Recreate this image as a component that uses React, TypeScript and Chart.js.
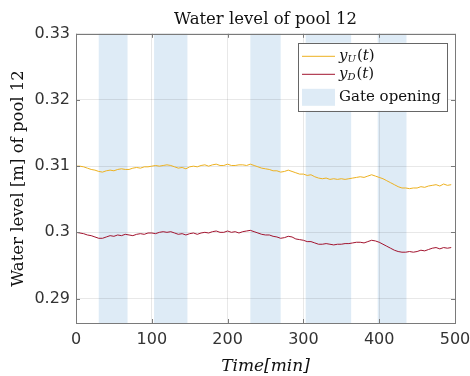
import React, { useEffect, useRef } from 'react';
import { Chart, registerables } from 'chart.js';

Chart.register(...registerables);

// ---- data ----
const timeMin = [
  0, 5, 10, 15, 20, 25, 30, 35, 40, 45, 50, 55, 60, 65, 70, 75, 80, 85, 90, 95,
  100, 105, 110, 115, 120, 125, 130, 135, 140, 145, 150, 155, 160, 165, 170, 175, 180, 185, 190, 195,
  200, 205, 210, 215, 220, 225, 230, 235, 240, 245, 250, 255, 260, 265, 270, 275, 280, 285, 290, 295,
  300, 305, 310, 315, 320, 325, 330, 335, 340, 345, 350, 355, 360, 365, 370, 375, 380, 385, 390, 395,
  400, 405, 410, 415, 420, 425, 430, 435, 440, 445, 450, 455, 460, 465, 470, 475, 480, 485, 490, 495,
];

const levelUpstream = [
  0.3100, 0.3100, 0.3099, 0.3097, 0.3095, 0.3094, 0.3092, 0.3091, 0.3093, 0.3094,
  0.3093, 0.3095, 0.3096, 0.3095, 0.3095, 0.3097, 0.3098, 0.3097, 0.3099, 0.3099,
  0.3100, 0.3101, 0.3100, 0.3101, 0.3102, 0.3101, 0.3099, 0.3097, 0.3098, 0.3096,
  0.3099, 0.3100, 0.3099, 0.3101, 0.3102, 0.3100, 0.3102, 0.3103, 0.3101, 0.3101,
  0.3103, 0.3101, 0.3101, 0.3102, 0.3102, 0.3101, 0.3103, 0.3101, 0.3099, 0.3097,
  0.3096, 0.3095, 0.3093, 0.3093, 0.3091, 0.3092, 0.3094, 0.3092, 0.3090, 0.3088,
  0.3088, 0.3086, 0.3087, 0.3084, 0.3082, 0.3081, 0.3082, 0.3080, 0.3081, 0.3080,
  0.3081, 0.3080, 0.3081, 0.3082, 0.3083, 0.3084, 0.3083, 0.3085, 0.3087, 0.3085,
  0.3083, 0.3081, 0.3078, 0.3075, 0.3072, 0.3069, 0.3067, 0.3067, 0.3066, 0.3067,
  0.3067, 0.3069, 0.3068, 0.3070, 0.3071, 0.3072, 0.3070, 0.3073, 0.3071, 0.3072,
];

const levelDownstream = [
  0.3000, 0.2999, 0.2998, 0.2996, 0.2995, 0.2993, 0.2991, 0.2991, 0.2993, 0.2995,
  0.2994, 0.2996, 0.2995, 0.2997, 0.2996, 0.2995, 0.2997, 0.2998, 0.2997, 0.2999,
  0.2999, 0.2998, 0.3000, 0.3001, 0.3000, 0.3001, 0.2999, 0.2997, 0.2998, 0.2996,
  0.2998, 0.2999, 0.2997, 0.2999, 0.3000, 0.2999, 0.3001, 0.3002, 0.3000, 0.3000,
  0.3002, 0.3000, 0.3001, 0.2999, 0.3001, 0.3002, 0.3003, 0.3001, 0.2999, 0.2997,
  0.2996, 0.2996, 0.2994, 0.2993, 0.2991, 0.2992, 0.2994, 0.2993, 0.2990, 0.2989,
  0.2988, 0.2986, 0.2986, 0.2984, 0.2982, 0.2982, 0.2983, 0.2982, 0.2981, 0.2982,
  0.2982, 0.2983, 0.2983, 0.2984, 0.2985, 0.2985, 0.2984, 0.2986, 0.2988, 0.2987,
  0.2985, 0.2982, 0.2979, 0.2976, 0.2973, 0.2971, 0.2970, 0.2970, 0.2971, 0.2970,
  0.2971, 0.2973, 0.2972, 0.2974, 0.2976, 0.2977, 0.2975, 0.2977, 0.2976, 0.2977,
];

const gateStart = [30, 103, 230, 303, 398];
const gateEnd = [68, 147, 270, 363, 436];

const xTickValues = [0, 100, 200, 300, 400, 500];
const xTickLabels = ['0', '100', '200', '300', '400', '500'];
const yTickValues = [0.29, 0.3, 0.31, 0.32, 0.33];
const yTickLabels = ['0.29', '0.3', '0.31', '0.32', '0.33'];

const legendParts = [
  { base: 'y', sub: 'U', arg: 't' },
  { base: 'y', sub: 'D', arg: 't' },
];
const gateLabel = 'Gate opening';

// ---- styles ----
const COLOR_UP = '#EDB120';
const COLOR_DOWN = '#A2142F';
const BAND = 'rgb(222, 235, 246)';
const AXIS = '#7a7a7a';
const TEXT = '#333333';

const bandsPlugin = {
  id: 'gateBands',
  beforeDraw(chart: any) {
    const { ctx, chartArea, scales } = chart;
    const xs = scales.x;
    ctx.save();
    ctx.fillStyle = BAND;
    for (let i = 0; i < gateStart.length; i++) {
      const a = xs.getPixelForValue(gateStart[i]);
      const b = xs.getPixelForValue(gateEnd[i]);
      ctx.fillRect(a, chartArea.top, b - a, chartArea.bottom - chartArea.top);
    }
    ctx.restore();
  },
};

const frameLegendPlugin = {
  id: 'frameLegend',
  afterDraw(chart: any) {
    const { ctx, chartArea, scales } = chart;
    const { left, right, top, bottom } = chartArea;
    ctx.save();
    // inward ticks
    ctx.strokeStyle = AXIS;
    ctx.lineWidth = 1;
    ctx.beginPath();
    xTickValues.forEach((v) => {
      const px = Math.round(scales.x.getPixelForValue(v)) + 0.5;
      ctx.moveTo(px, bottom);
      ctx.lineTo(px, bottom - 4);
      ctx.moveTo(px, top);
      ctx.lineTo(px, top + 4);
    });
    yTickValues.forEach((v) => {
      const py = Math.round(scales.y.getPixelForValue(v)) + 0.5;
      ctx.moveTo(left, py);
      ctx.lineTo(left + 4, py);
      ctx.moveTo(right, py);
      ctx.lineTo(right - 4, py);
    });
    ctx.stroke();
    // box
    ctx.strokeRect(Math.round(left) + 0.5, Math.round(top) + 0.5, Math.round(right - left), Math.round(bottom - top));

    // legend
    const lx = right - 157;
    const ly = top + 9;
    const lw = 149;
    const lh = 68;
    ctx.fillStyle = '#ffffff';
    ctx.fillRect(lx, ly, lw, lh);
    ctx.strokeStyle = '#666666';
    ctx.strokeRect(Math.round(lx) + 0.5, Math.round(ly) + 0.5, lw, lh);

    const sx0 = lx + 4;
    const sx1 = lx + 37;
    const tx = lx + 41;
    const rows = [ly + 13, ly + 31];
    const colors = [COLOR_UP, COLOR_DOWN];
    ctx.textBaseline = 'middle';
    ctx.textAlign = 'left';
    legendParts.forEach((p, i) => {
      const y = rows[i];
      ctx.strokeStyle = colors[i];
      ctx.lineWidth = 1;
      ctx.beginPath();
      ctx.moveTo(sx0, y + 0.5);
      ctx.lineTo(sx1, y + 0.5);
      ctx.stroke();
      ctx.fillStyle = '#111';
      let x = tx;
      ctx.font = 'italic 15px "DejaVu Serif"';
      ctx.fillText(p.base, x, y);
      x += ctx.measureText(p.base).width;
      ctx.font = 'italic 10px "DejaVu Serif"';
      ctx.fillText(p.sub, x, y + 4);
      x += ctx.measureText(p.sub).width + 1;
      ctx.font = '15px "DejaVu Serif"';
      ctx.fillText('(', x, y);
      x += ctx.measureText('(').width;
      ctx.font = 'italic 15px "DejaVu Serif"';
      ctx.fillText(p.arg, x, y);
      x += ctx.measureText(p.arg).width;
      ctx.font = '15px "DejaVu Serif"';
      ctx.fillText(')', x, y);
    });
    ctx.fillStyle = BAND;
    ctx.fillRect(sx0, ly + 46, sx1 - sx0, 17);
    ctx.fillStyle = '#111';
    ctx.font = '15px "DejaVu Serif"';
    ctx.fillText(gateLabel, tx, ly + 54);
    ctx.restore();
  },
};

export default function App() {
  const canvasRef = useRef<HTMLCanvasElement | null>(null);

  useEffect(() => {
    document.body.style.margin = '0';
    document.body.style.overflow = 'hidden';
    const canvas = canvasRef.current;
    if (!canvas) return;
    const chart = new Chart(canvas, {
      type: 'line',
      data: {
        datasets: [
          {
            label: 'y_U(t)',
            data: timeMin.map((t, i) => ({ x: t, y: levelUpstream[i] })),
            borderColor: COLOR_UP,
            borderWidth: 1,
            pointRadius: 0,
            tension: 0,
            fill: false,
          },
          {
            label: 'y_D(t)',
            data: timeMin.map((t, i) => ({ x: t, y: levelDownstream[i] })),
            borderColor: COLOR_DOWN,
            borderWidth: 1,
            pointRadius: 0,
            tension: 0,
            fill: false,
          },
        ],
      },
      options: {
        responsive: false,
        animation: false,
        events: [],
        layout: { padding: { left: 0, right: 15, top: 0, bottom: 0 } },
        plugins: {
          legend: { display: false },
          tooltip: { enabled: false },
          title: {
            display: true,
            text: 'Water level of pool 12',
            fullSize: false,
            color: '#111',
            font: { family: 'DejaVu Serif', size: 16.5, weight: 'normal' },
            padding: { top: 10, bottom: 4 },
          },
        },
        scales: {
          x: {
            type: 'linear',
            min: 0,
            max: 500,
            afterBuildTicks: (s: any) => {
              s.ticks = xTickValues.map((v) => ({ value: v }));
            },
            afterFit: (s: any) => {
              s.height = 53;
              s.paddingLeft = 0;
              s.paddingRight = 0;
            },
            ticks: {
              autoSkip: false,
              maxRotation: 0,
              padding: 7,
              color: TEXT,
              font: { family: 'DejaVu Sans', size: 16 },
              callback: (v: any) => xTickLabels[xTickValues.indexOf(Number(v))],
            },
            grid: { color: 'rgba(0,0,0,0.09)', drawTicks: false },
            border: { display: false },
            title: {
              display: true,
              text: 'Time[min]',
              color: '#111',
              font: { family: 'DejaVu Serif', size: 17, style: 'italic', lineHeight: 1 },
              padding: { top: 0, bottom: 0.5 },
            },
          },
          y: {
            type: 'linear',
            min: 0.2863,
            max: 0.33,
            afterBuildTicks: (s: any) => {
              s.ticks = yTickValues.map((v) => ({ value: v }));
            },
            afterFit: (s: any) => {
              s.width = 76;
              s.paddingTop = 0;
              s.paddingBottom = 0;
            },
            ticks: {
              autoSkip: false,
              padding: 6,
              color: TEXT,
              font: { family: 'DejaVu Sans', size: 16 },
              callback: (v: any) => {
                const idx = yTickValues.findIndex((t) => Math.abs(t - Number(v)) < 1e-9);
                return idx >= 0 ? yTickLabels[idx] : '';
              },
            },
            grid: { color: 'rgba(0,0,0,0.09)', drawTicks: false },
            border: { display: false },
            title: {
              display: true,
              text: 'Water level [m] of pool 12',
              color: '#111',
              font: { family: 'DejaVu Serif', size: 16.5, weight: 'normal' },
              padding: { top: 9, bottom: 0 },
            },
          },
        },
      },
      plugins: [bandsPlugin, frameLegendPlugin],
    } as any);
    return () => chart.destroy();
  }, []);

  return (
    <div style={{ width: 470, height: 376, background: '#fff' }}>
      <canvas ref={canvasRef} width={470} height={376} style={{ display: 'block' }} />
    </div>
  );
}
